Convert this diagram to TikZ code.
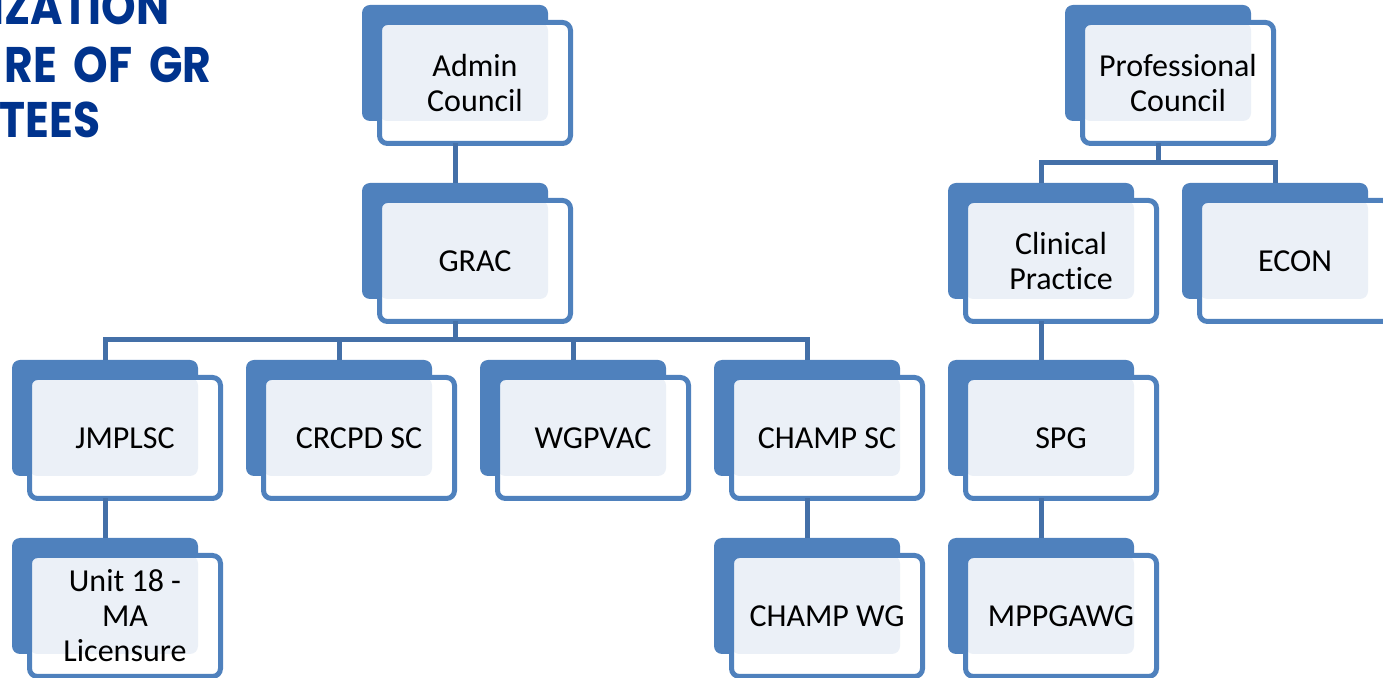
\documentclass[tikz,border=0pt]{standalone}
\usepackage{fontspec}
\setmainfont{Carlito}[Ligatures=NoCommon]
\newfontfamily\headfont{Poppins}[FakeStretch=0.88,WordSpace=1.8]
\definecolor{boxblue}{HTML}{4F81BD}
\definecolor{linkblue}{HTML}{4470A8}
\definecolor{boxfill}{HTML}{EBF0F7}
\definecolor{headblue}{HTML}{00338D}
\begin{document}
\begin{tikzpicture}[x=0.5pt,y=-0.5pt,
    back/.style={fill=boxblue, rounded corners=4pt, minimum width=93pt, minimum height=58pt,
      inner sep=0pt, outer sep=0pt, anchor=north west},
    front/.style={draw=boxblue, line width=2.5pt, fill=white, rounded corners=4pt,
      minimum width=95.5pt, minimum height=60.5pt, inner sep=0pt, outer sep=0pt, align=center,
      font=\fontsize{16}{17.5}\selectfont,
      path picture={\fill[boxfill, rounded corners=4pt] (path picture bounding box.north west)
        rectangle ([shift={(-11.25pt,11.25pt)}]path picture bounding box.south east);}},
    link/.style={draw=linkblue, line width=2.5pt},
    head/.style={text=headblue, font=\headfont\bfseries\fontsize{25}{28}\selectfont,
      anchor=base east, inner sep=0pt}]
  \useasboundingbox (0,0) rectangle (1383,678);
  \clip (0,0) rectangle (1383,678);

  % title, cut off at the left
  \node[head] (head1) at (170,25) {IZATION};
  \node[head] (head2) at (212,83) {RE OF GR};
  \node[head] (head3) at (101,138) {TTEES};

  % boxes: name / left / top of the back plate / text
  \foreach \nm/\px/\py/\txt in {admin/362/5/{Admin\\Council}, grac/362/183/GRAC,
      jmplsc/12/360/JMPLSC, crcpd/246/360/CRCPD SC, wgpvac/480/360/WGPVAC,
      champsc/714/360/CHAMP SC, unit/12/538/{Unit 18 -\\MA\\Licensure},
      champwg/714/538/CHAMP WG, prof/1065/5/{Professional\\Council},
      clinical/948/183/{Clinical\\Practice}, econ/1182/183/ECON,
      spg/948/360/SPG, mppgawg/948/538/MPPGAWG}
  {
    \node[back] (\nm-b) at (\px,\py) {};
    \node[front] (\nm) at ([shift={(10pt,-10pt)}]\nm-b.center) {\txt};
  }

  \draw[link] (admin-b.center |- admin.south) -- (grac-b.north);
  \foreach \c in {jmplsc,crcpd,wgpvac,champsc}
    \draw[link] (grac-b.center |- grac.south) |- ([yshift=10pt]\c-b.north) -- (\c-b.north);
  \draw[link] (jmplsc-b.center |- jmplsc.south) -- (unit-b.north);
  \draw[link] (champsc-b.center |- champsc.south) -- (champwg-b.north);

  \foreach \c in {clinical,econ}
    \draw[link] (prof-b.center |- prof.south) |- ([yshift=10pt]\c-b.north) -- (\c-b.north);
  \draw[link] (clinical-b.center |- clinical.south) -- (spg-b.north);
  \draw[link] (spg-b.center |- spg.south) -- (mppgawg-b.north);
\end{tikzpicture}
\end{document}
